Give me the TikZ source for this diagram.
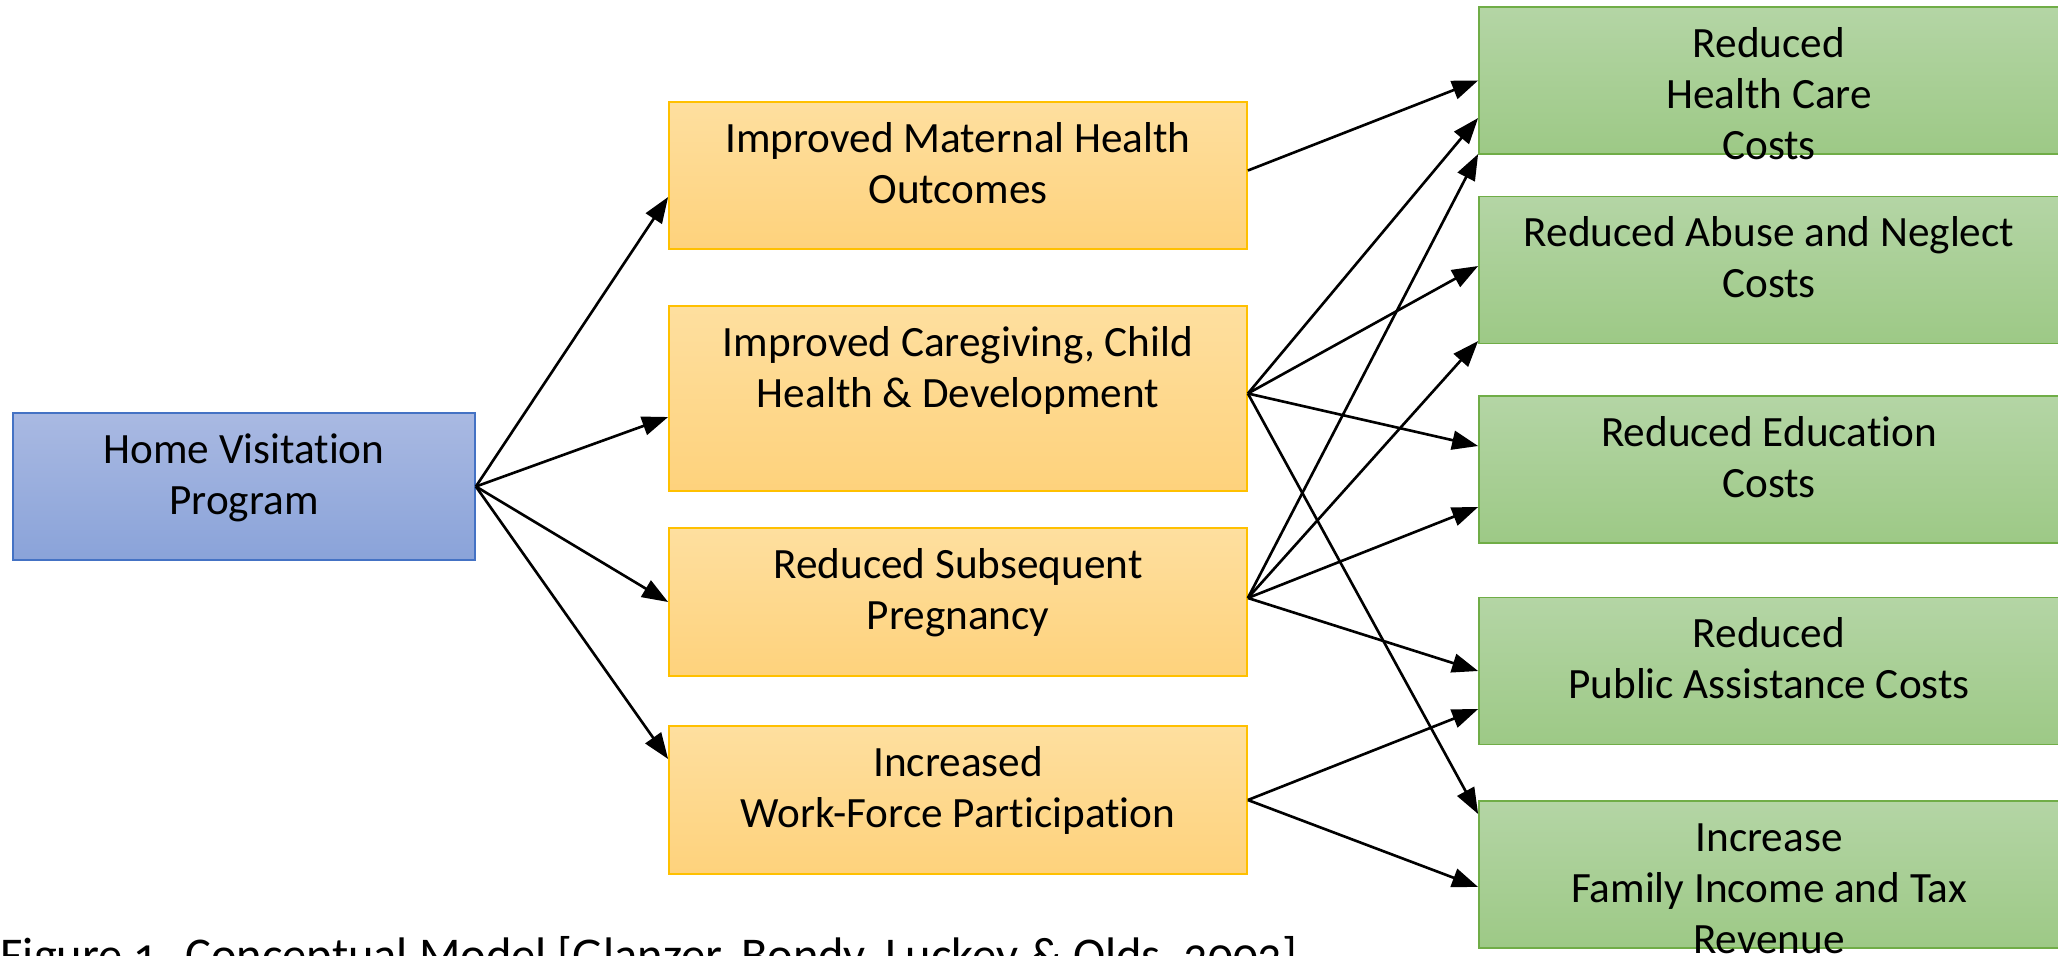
\documentclass[tikz,border=0pt]{standalone}
\usepackage{fontspec}
\setmainfont{Carlito}[Ligatures=NoCommon]
\usepackage{tikz}
\usetikzlibrary{arrows.meta}
\definecolor{BlueT} {HTML}{A9B9E2}
\definecolor{BlueB} {HTML}{8AA3D9}
\definecolor{BlueD} {HTML}{4472C4}
\definecolor{GoldT} {HTML}{FEDF9F}
\definecolor{GoldB} {HTML}{FED27C}
\definecolor{GoldD} {HTML}{FFC000}
\definecolor{GrnT}  {HTML}{B4D5A5}
\definecolor{GrnB}  {HTML}{9DC986}
\definecolor{GrnD}  {HTML}{70AD47}
\newcommand{\boxfont}{\fontsize{12.3}{14.5}\selectfont}
\newcommand{\captfont}{\fontsize{13.8}{16}\selectfont\addfontfeatures{Numbers=OldStyle}}
\tikzset{
  cbox/.style args={#1/#2/#3}{
    rectangle, draw=#3, top color=#1, bottom color=#2,
    line width=0.5pt, inner sep=0pt,
  },
  txt/.style={
    align=flush center, text width=5.6cm, inner sep=0pt,
    anchor=base, font=\boxfont,
  },
  arr/.style={
    -{Triangle[length=0.26cm,width=0.19cm]},
    line width=0.75pt, color=black,
  },
  capt/.style={
    inner sep=0pt, anchor=base west, font=\captfont,
  },
}

\begin{document}
\begin{tikzpicture}[x=1cm,y=1cm]
  \useasboundingbox (0,0) rectangle (20.58,-9.55);

  % program, outcomes, savings
  \node[cbox=BlueT/BlueB/BlueD, minimum width=4.62cm, minimum height=1.47cm] (prog) at (2.44,-4.865) {};
  \foreach \id/\y/\h in {o1/-1.755/1.47, o2/-3.985/1.85, o3/-6.02/1.48, o4/-8.00/1.48}{
    \node[cbox=GoldT/GoldB/GoldD, minimum width=5.78cm, minimum height=\h cm] (\id) at (9.58,\y) {};
  }
  \foreach \id/\y in {g1/-0.805, g2/-2.70, g3/-4.695, g4/-6.71, g5/-8.745}{
    \node[cbox=GrnT/GrnB/GrnD, minimum width=5.80cm, minimum height=1.47cm] (\id) at (17.69,\y) {};
  }

  % box texts sit from the top edge down
  \foreach \id/\t in {prog/{Home Visitation\\Program},
                      o1/{Improved Maternal Health\\Outcomes},
                      o2/{Improved Caregiving, Child\\Health \& Development},
                      o3/{Reduced Subsequent\\Pregnancy},
                      o4/{Increased\\Work-Force Participation},
                      g1/{Reduced\\Health Care\\Costs},
                      g2/{Reduced Abuse and Neglect\\Costs},
                      g3/{Reduced Education\\Costs},
                      g4/{Reduced\\Public Assistance Costs},
                      g5/{Increase\\Family Income and Tax\\Revenue}}{
    \node[txt] (\id-t) at ([yshift=-5.1mm]\id.north) {\t};
  }

  % program -> outcomes
  \foreach \dst/\dy in {o1/-2.15mm, o2/-1.85mm, o3/0mm, o4/4.1mm}
    \draw[arr] (prog.east) -- ([yshift=\dy]\dst.west);

  % outcomes -> savings
  \draw[arr] ([yshift=0.5mm]o1.east) -- (g1.west);
  \foreach \dst/\dy in {g1/-3.75mm, g2/0.4mm, g3/2.35mm, g5/6.05mm}
    \draw[arr] ([yshift=0.5mm]o2.east) -- ([yshift=\dy]\dst.west);
  \foreach \dst/\dy in {g1/-7.35mm, g2/-7.1mm, g3/-3.75mm, g4/0mm}
    \draw[arr] ([yshift=0.4mm]o3.east) -- ([yshift=\dy]\dst.west);
  \foreach \dst/\dy in {g4/-3.8mm, g5/-1.25mm}
    \draw[arr] (o4.east) -- ([yshift=\dy]\dst.west);

  \node[capt] (caption) at (0,-9.71) {Figure 1. Conceptual Model [Glanzer, Bondy, Luckey \& Olds, 2002]};
\end{tikzpicture}
\end{document}
